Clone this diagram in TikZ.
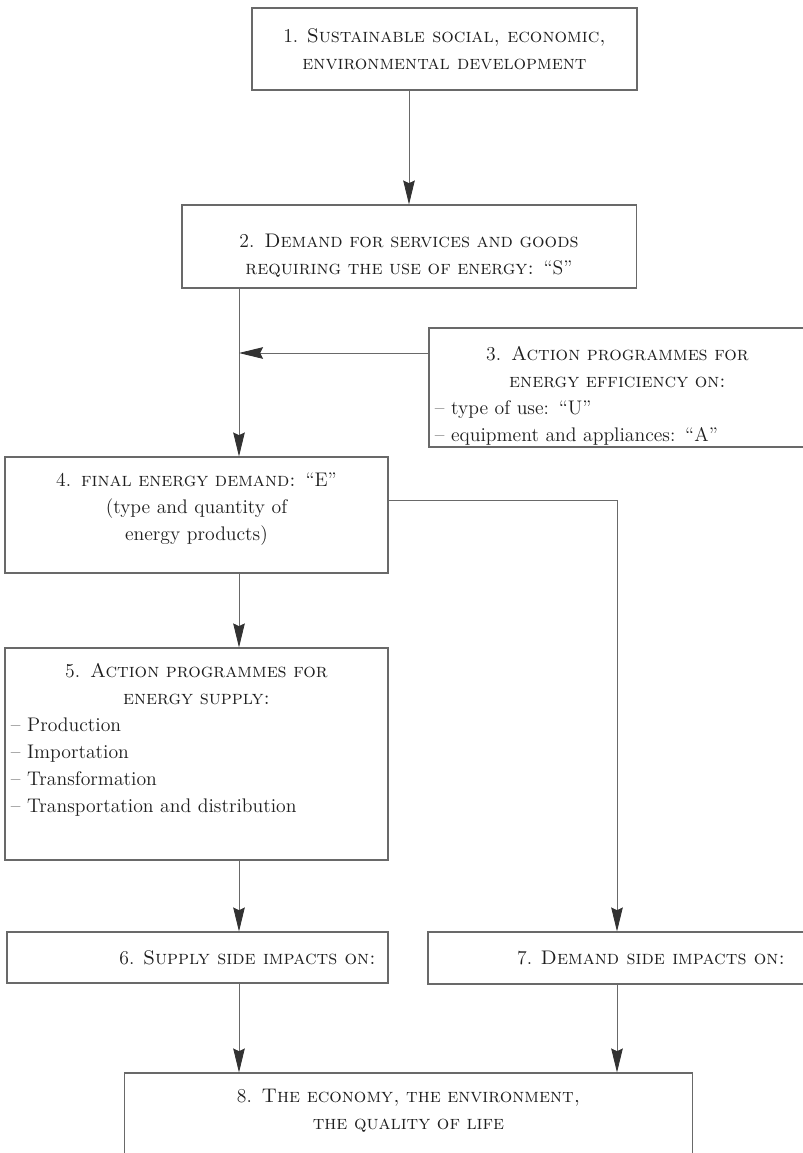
\documentclass[tikz,border=0pt]{standalone}
\usepackage{fontspec}
\usepackage{tikz}
\usetikzlibrary{arrows.meta,calc,positioning}

\definecolor{framegray}{RGB}{105,105,105}
\definecolor{tipgray}{RGB}{50,50,50}
\definecolor{inkgray}{RGB}{30,30,30}

\tikzset{
  stagebox/.style={draw=framegray, line width=0.8pt, inner xsep=0.15cm, inner ysep=0.1cm,
    text=inkgray, font=\fontsize{14}{19.2}\selectfont, align=center},
  flow/.style={draw=framegray, line width=0.6pt,
    -{Stealth[length=0.6cm, width=0.29cm, inset=0.07cm, color=tipgray]}},
}

\begin{document}
\begin{tikzpicture}[x=0.025cm, y=-0.025cm]

    \useasboundingbox (0,0) rectangle (803,1153);

    % stages, top to bottom
    \node[stagebox, minimum width=9.625cm, minimum height=2.05cm]   (sustain)    at (444.5,49)
        {1. \textsc{Sustainable social, economic,}\\\textsc{environmental development}};
    \node[stagebox, text width=11.05cm, minimum height=2.075cm]     (services)   at (409,246.5)
        {2. \textsc{Demand for services and goods}\\\textsc{requiring the use of energy:} ``S''\par\vspace{-0.45cm}};
    \node[stagebox, text width=9.125cm, minimum height=2.975cm, align=left] (efficiency) at (617.5,387.5)
        {\centering 3. \textsc{Action programmes for}\\\textsc{energy efficiency on:}\par
         \raggedright -- type of use: ``U''\\-- equipment and appliances: ``A''\par\vspace{-0.4cm}};
    \node[stagebox, text width=9.275cm, minimum height=2.9cm]       (finaldem)   at (196.5,515)
        {4. \textsc{final energy demand:} ``E''\\(type and quantity of\\energy products)\par\vspace{0.3cm}};
    \node[stagebox, text width=9.275cm, minimum height=5.3cm, align=left] (supply) at (196.5,754)
        {\centering 5. \textsc{Action programmes for}\\\textsc{energy supply:}\par
         \raggedright -- Production\\-- Importation\\-- Transformation\\-- Transportation and distribution\par\vspace{0.7cm}};
    \node[stagebox, minimum width=9.525cm, minimum height=1.275cm]  (supplyside) at (197.5,957.5)
        {\hspace*{2.5cm}6. \textsc{Supply side impacts on:}};
    \node[stagebox, minimum width=9.45cm, minimum height=1.3cm]     (demandside) at (617,958)
        {\hspace*{1.7cm}7. \textsc{Demand side impacts on:}};
    \node[stagebox, text width=13.875cm, minimum height=2.425cm]    (outcome)    at (408.5,1121.5)
        {8. \textsc{The economy, the environment,}\\\textsc{the quality of life}\par\vspace{0.55cm}};

    % the left spine, the joint of stage 3, the tap of stage 4
    \coordinate (spine) at (239,0);
    \coordinate (joint) at (239,353);
    \coordinate (tap)   at (0,500);

    \draw[flow] (services.north |- sustain.south) -- (services.north);
    \draw[flow] (services.south -| spine) -- (finaldem.north -| spine);
    \draw[flow] (efficiency.west |- joint) -- (joint);
    \draw[flow] (finaldem.south -| spine) -- (supply.north -| spine);
    \draw[flow] (finaldem.east |- tap) -| (demandside.north);
    \draw[flow] (supply.south -| spine) -- (supplyside.north -| spine);
    \draw[flow] (supplyside.south -| spine) -- (outcome.north -| spine);
    \draw[flow] (demandside.south) -- (demandside.south |- outcome.north);

\end{tikzpicture}
\end{document}
